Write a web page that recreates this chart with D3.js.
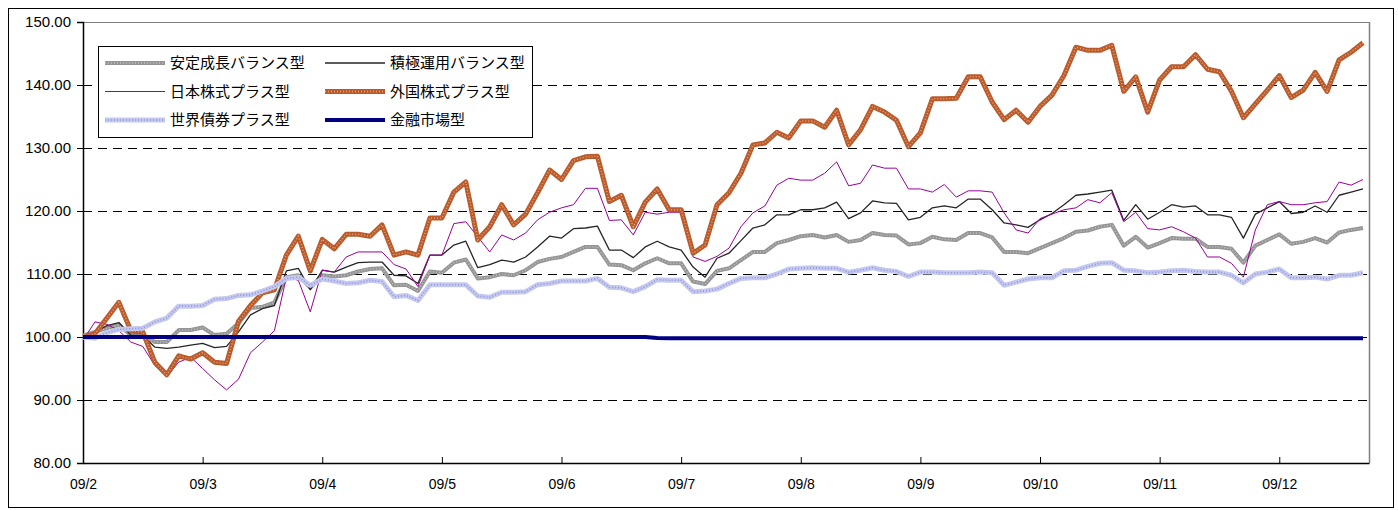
<!DOCTYPE html>
<html><head><meta charset="utf-8">
<script src="https://cdn.jsdelivr.net/npm/d3@7"></script>
<style>body{margin:0;background:#fff;} svg{display:block;}</style>
</head><body>
<svg id="c" width="1398" height="510"></svg>
<script>
const monthLabels = ["09/2","09/3","09/4","09/5","09/6","09/7","09/8","09/9","09/10","09/11","09/12"];
const yTicks = [80,90,100,110,120,130,140,150];
const seriesNames = ["安定成長バランス型","積極運用バランス型","日本株式プラス型","外国株式プラス型","世界債券プラス型","金融市場型"];

const stable = [100.2,100.8,101.4,101.9,100.3,100.3,99.2,99.2,101.1,101.1,101.5,100.3,100.5,102.2,104.6,104.8,105.5,109.5,109.8,107.8,
109.8,109.6,109.8,110.4,110.8,110.9,108.2,108.3,107.3,110.4,110.2,111.8,112.3,109.3,109.5,110,109.8,110.6,111.9,112.4,
112.7,113.5,114.3,114.3,111.5,111.4,110.6,111.7,112.5,111.7,111.7,108.8,108.4,110.5,110.9,112.2,113.5,113.5,114.9,115.4,
116,116.2,115.8,116.2,115.1,115.4,116.5,116.2,116.1,114.7,114.9,115.9,115.5,115.4,116.5,116.5,115.8,113.5,113.5,113.3,
114.1,114.9,115.7,116.7,116.9,117.5,117.8,114.5,115.9,114.2,114.9,115.7,115.6,115.6,114.3,114.3,114,111.8,114.5,115.4,
116.3,114.8,115.1,115.7,115,116.6,117,117.3];
const active = [100,100.8,101.8,102.3,100.3,100.2,98.4,98.2,98.4,98.7,99,98.3,98.5,100.8,103.5,104.5,105,110.5,110.9,107.5,
110.6,110.3,111.1,111.8,111.9,111.9,109.8,109.7,108.5,113,113,114.6,115.2,111,111.5,112.2,111.9,112.7,114.3,116,
115.7,117.2,117.3,117.6,113.8,113.8,112.6,114.3,115.2,114.3,113.8,111.1,109.5,112.5,113.3,115.3,117.3,117.8,119.4,119.4,
120.2,120.2,120.5,121.4,118.8,119.7,121.6,121.3,121.2,118.6,119,120.5,120.8,120.5,121.9,121.9,120.2,118.1,117.8,117.4,
118.6,119.6,121,122.5,122.7,123,123.3,118.5,121,118.7,119.8,121,120.6,120.8,119.4,119.4,119,115.7,119.5,120.5,
121.5,119.6,119.8,120.8,119.8,122.5,123,123.5];
const japan = [99.5,102.4,102,101,99.2,98.5,95.5,93.7,96,96.8,95,93.2,91.6,93.3,97.5,99.2,101,109.5,109,104,
110.6,110.3,112.7,113.5,113.5,113.5,111.5,110.8,108,113,113,118,118.3,115.9,113.5,116.2,115.4,116.5,118.6,119.8,
120.5,121,123.6,123.6,118.5,118.6,116.2,119.8,119.5,119.8,119.8,112.7,112,112.8,114.1,117.5,119.7,120.8,124.1,125.2,
124.9,124.9,126,127.8,124,124.4,127.3,126.8,126.8,123.5,123.5,123,124.2,122.2,123.2,123.2,123,119.7,117,116.5,
118.8,119.5,120.2,120.5,121.8,121.3,122.9,118.3,119.8,117.2,117,117.5,116.7,115.7,112.7,112.7,111.7,109.5,117,121,
121.5,121,121,121.3,121.5,124.6,124.1,125];
const foreign = [100,100.5,103,105.5,101,100.8,96,94,97,96.5,97.5,96,95.8,102.5,105,107,107.5,113,116,110.5,
115.5,114,116.3,116.3,116,117.8,113,113.5,113,118.9,118.9,123,124.6,115.4,117.5,121,117.8,119.5,122.9,126.5,
125,128,128.6,128.7,121.5,122.5,117.5,121.4,123.5,120.2,120.2,113.3,114.6,121,122.9,126,130.5,130.8,132.5,131.6,
134.3,134.3,133.3,136,130.5,132.9,136.6,135.7,134.4,130.2,132.4,137.8,137.8,137.9,141.3,141.3,137.3,134.5,136,134.1,
136.6,138.4,141.5,146,145.5,145.5,146.3,139,141.3,135.7,140.8,142.9,142.9,144.8,142.5,142.1,139,134.8,137,139.2,
141.5,138,139.2,142,139,144,145.2,146.7];
const bond = [100,99.8,100.7,101.2,101.3,101.4,102.4,103,104.9,104.9,105,106,106.1,106.6,106.7,107.3,108,109.3,109.5,108.2,
109.2,108.9,108.5,108.6,109,108.8,106.4,106.6,105.8,108.3,108.3,108.3,108.3,106.5,106.3,107.1,107.1,107.2,108.3,108.5,
108.9,108.9,108.9,109.3,107.9,107.8,107.2,108,109.1,109,109,107.2,107.3,107.6,108.5,109.3,109.4,109.4,110,110.8,
110.9,111,110.9,110.9,110.3,110.6,111,110.6,110.4,109.6,110.3,110.3,110.2,110.2,110.2,110.3,110.2,108.2,108.7,109.2,
109.4,109.4,110.5,110.6,111.2,111.7,111.8,110.6,110.5,110.2,110.3,110.5,110.6,110.4,110.3,110.3,109.8,108.6,110,110.3,
110.8,109.4,109.4,109.5,109.2,109.8,109.8,110.2];
const money = [100,100,100,100,100,100,100,100,100,100,100,100,100,100,100,100,100,100,100,100,
100,100,100,100,100,100,100,100,100,100,100,100,100,100,100,100,100,100,100,100,
100,100,100,100,100,100,100,100,99.85,99.8,99.8,99.8,99.8,99.8,99.8,99.8,99.8,99.8,99.8,99.8,
99.8,99.8,99.8,99.8,99.8,99.8,99.8,99.8,99.8,99.8,99.8,99.8,99.8,99.8,99.8,99.8,99.8,99.8,99.8,99.8,
99.8,99.8,99.8,99.8,99.8,99.8,99.8,99.8,99.8,99.8,99.8,99.8,99.8,99.8,99.8,99.8,99.8,99.8,99.8,99.8,
99.8,99.8,99.8,99.8,99.8,99.8,99.8,99.8];

const seriesValues = [stable, active, japan, foreign, bond, money];
const dayIndex = d3.range(0, stable.length * 2, 2);
const monthDays = d3.range(0, monthLabels.length * 20, 20);

const styles = [
  {base:{c:"#959595",w:4}, over:{c:"#c2c2c2",w:1.5,d:"1 2"}},
  {base:{c:"#262626",w:1.3}},
  {base:{c:"#990099",w:1}},
  {base:{c:"#bb5a2a",w:5}, over:{c:"#e3a57e",w:1.5,d:"1 2"}},
  {base:{c:"#c6c9ef",w:5}, over:{c:"#8f95d8",w:1.6,d:"1 2"}},
  {base:{c:"#000080",w:4}}
];

const svg = d3.select("#c");
const L=83, R=1369, T=22, B=463;
const x = d3.scaleLinear().domain([0,215]).range([L,R]);
const y = d3.scaleLinear().domain([80,150]).range([B,T]);

svg.append("rect").attr("x",8.5).attr("y",8.5).attr("width",1385).attr("height",499)
  .attr("fill","none").attr("stroke","#000").attr("stroke-width",1);

// plot border top/right
svg.append("line").attr("x1",L).attr("x2",R).attr("y1",T+0.5).attr("y2",T+0.5).attr("stroke","#808080");
svg.append("line").attr("x1",R+0.5).attr("x2",R+0.5).attr("y1",T).attr("y2",B).attr("stroke","#808080").attr("stroke-width",1.5);

// grid
svg.append("g").selectAll("line").data(yTicks.filter(v=>v>80 && v<150)).join("line")
  .attr("x1",L).attr("x2",R).attr("y1",d=>Math.round(y(d))+0.5).attr("y2",d=>Math.round(y(d))+0.5)
  .attr("stroke","#000").attr("stroke-dasharray","9 6").attr("stroke-width",1);

// y axis
const ya = d3.axisLeft(y).tickValues(yTicks).tickFormat(d3.format(".2f")).tickSize(6).tickPadding(6);
const gy = svg.append("g").attr("transform",`translate(${L},0)`).call(ya);
gy.select(".domain").attr("stroke","#000").attr("stroke-width",1.5);
gy.selectAll("text").attr("font-family","Liberation Sans, Arial, sans-serif").attr("font-size",15).attr("fill","#000");

// x axis
const xa = d3.axisBottom(x).tickValues(monthDays).tickFormat((d,i)=>monthLabels[i]).tickSize(-6).tickPadding(16).tickSizeOuter(0);
const gx = svg.append("g").attr("transform",`translate(0,${B})`).call(xa);
gx.select(".domain").attr("stroke","#000").attr("stroke-width",1.5);
gx.selectAll("text").attr("font-family","Liberation Sans, Arial, sans-serif").attr("font-size",14).attr("fill","#000");

// lines
const lineGen = d3.line().x((d,i)=>x(dayIndex[i])).y(d=>y(d));
seriesValues.forEach((vals,k)=>{
  const s = styles[k];
  svg.append("path").attr("d",lineGen(vals)).attr("fill","none")
    .attr("stroke",s.base.c).attr("stroke-width",s.base.w).attr("stroke-linejoin","round");
  if (s.over) svg.append("path").attr("d",lineGen(vals)).attr("fill","none")
    .attr("stroke",s.over.c).attr("stroke-width",s.over.w).attr("stroke-dasharray",s.over.d);
});

// legend
const lg = svg.append("g");
lg.append("rect").attr("x",98.5).attr("y",46.5).attr("width",434).attr("height",91)
  .attr("fill","#fff").attr("stroke","#000").attr("stroke-width",1);
seriesNames.forEach((n,k)=>{
  const col = k%2, row = Math.floor(k/2);
  const lx = col? 325:105, ly = 63 + row*28.5;
  const s = styles[k];
  lg.append("line").attr("x1",lx).attr("x2",lx+60).attr("y1",ly).attr("y2",ly)
    .attr("stroke",s.base.c).attr("stroke-width",s.base.w);
  if (s.over) lg.append("line").attr("x1",lx).attr("x2",lx+60).attr("y1",ly).attr("y2",ly)
    .attr("stroke",s.over.c).attr("stroke-width",s.over.w).attr("stroke-dasharray",s.over.d);
  lg.append("text").attr("x",lx+65).attr("y",ly).attr("dy","0.36em")
    .attr("font-family","Noto Sans CJK JP, sans-serif").attr("font-size",15).attr("fill","#000").text(n);
});
</script>
</body></html>
